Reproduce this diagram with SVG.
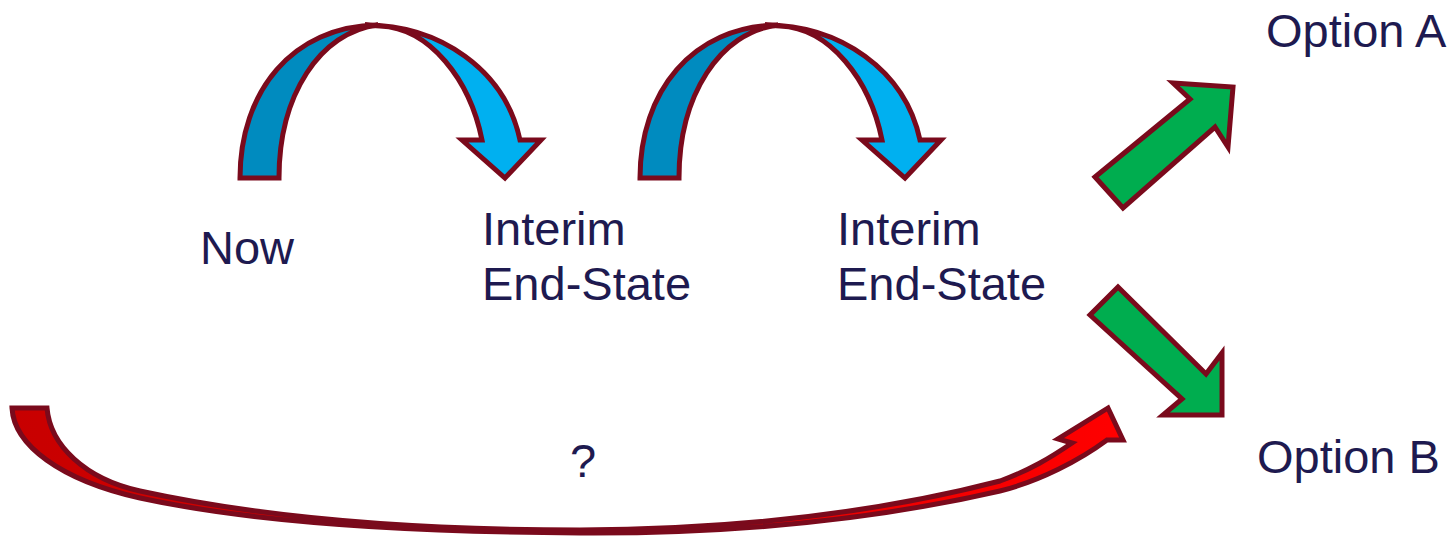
<svg xmlns="http://www.w3.org/2000/svg" width="1453" height="537" viewBox="0 0 1453 537">
<defs>
<style>
.shape{stroke:#7A0A1C;stroke-width:5;stroke-linejoin:miter}
.dark{fill:#008BBF}
.light{fill:#00B0F0}
.green{fill:#00AD4F}
.lbl{font-family:"Liberation Sans",Arial,sans-serif;font-size:47px;fill:#1E1A50}
</style>
<linearGradient id="redg" x1="0" y1="0" x2="1" y2="0">
<stop offset="0" stop-color="#C80000"/>
<stop offset="0.6" stop-color="#E00000"/>
<stop offset="1" stop-color="#FF0000"/>
</linearGradient>
<g id="curved">
<path class="shape dark" d="M240,178 C240,92 292,26 378,25 C320,32 279,95 279,178 Z"/>
<path class="shape light" d="M365,25 C440,25 505,70 520,140 L541,140 L505,178 L462,140 L482,140 C470,80 430,28 380,26 Z"/>
</g>
</defs>
<g id="connectors">
<g id="blue-arrow-1"><use href="#curved"/></g>
<g id="blue-arrow-2"><use href="#curved" transform="translate(400,0)"/></g>
<g id="green-arrow-a"><path class="shape green" d="M1095,177 L1190,99 L1173,83 L1233,87 L1228,147 L1215,127 L1123,208 Z"/></g>
<g id="green-arrow-b"><path class="shape green" d="M1118,287 L1206,374 L1222,353 L1222,415 L1163,415 L1182,399 L1090,315 Z"/></g>
<g id="red-arrow"><path class="shape" fill="url(#redg)" d="M12,408 C14,445 60,480 140,498 C250,522 400,532 580,533 C760,534 900,514 1000,491 C1040,481 1080,460 1107,440 L1123,440 L1108,408 L1058,439 L1072,443 C1050,458 1030,470 1000,481 C900,507 760,529 580,530 C400,530 250,515 140,491 C85,479 50,445 47,408 Z"/></g>
</g>
<g id="node-now"><text class="lbl" x="200" y="264">Now</text></g>
<g id="node-interim-1"><text class="lbl" x="482" y="245">Interim</text><text class="lbl" x="482" y="300">End-State</text></g>
<g id="node-interim-2"><text class="lbl" x="837" y="245">Interim</text><text class="lbl" x="837" y="300">End-State</text></g>
<g id="node-option-a"><text class="lbl" x="1266" y="47">Option A</text></g>
<g id="node-option-b"><text class="lbl" x="1257" y="473">Option B</text></g>
<g id="node-question"><text class="lbl" x="570" y="477">?</text></g>
</svg>
